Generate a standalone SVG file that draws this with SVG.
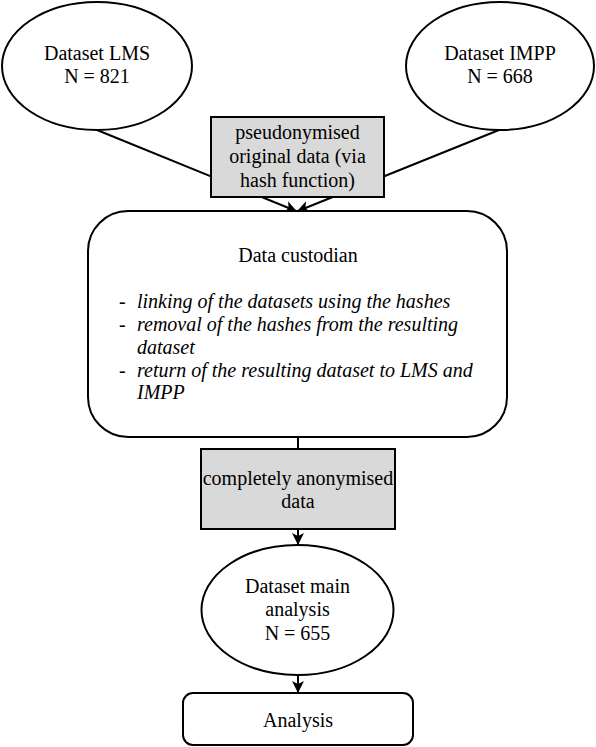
<svg xmlns="http://www.w3.org/2000/svg" width="596" height="747" viewBox="0 0 596 747">
<style>
.s{fill:#fff;stroke:#000;stroke-width:2}
.g{fill:#d9d9d9;stroke:#000;stroke-width:2}
.c{fill:none;stroke:#000;stroke-width:2}
text{font-family:"Liberation Serif","Times New Roman",serif;font-size:20px;fill:#000}
.m{text-anchor:middle}
.i{font-style:italic}
</style>
<defs>
<marker id="ah" markerWidth="12" markerHeight="12" refX="11" refY="6" orient="auto" markerUnits="userSpaceOnUse">
<path d="M0,0 L12,6 L0,12 L3,6 z" fill="#000"/>
</marker>
</defs>
<rect width="596" height="747" fill="#fff"/>
<g id="connectors">
<line class="c" x1="97" y1="130" x2="296" y2="211" marker-end="url(#ah)"/>
<line class="c" x1="499" y1="130" x2="298" y2="211" marker-end="url(#ah)"/>
<line class="c" x1="298" y1="437" x2="298" y2="449"/>
<line class="c" x1="298" y1="529" x2="298" y2="544" marker-end="url(#ah)"/>
<line class="c" x1="298" y1="675" x2="298" y2="692" marker-end="url(#ah)"/>
</g>
<g id="lms">
<ellipse class="s" cx="97" cy="66" rx="95" ry="64"/>
<text class="m" x="97" y="60">Dataset LMS</text>
<text class="m" x="97" y="83">N = 821</text>
</g>
<g id="impp">
<ellipse class="s" cx="500" cy="66" rx="94" ry="64"/>
<text class="m" x="500" y="60">Dataset IMPP</text>
<text class="m" x="500" y="83">N = 668</text>
</g>
<g id="pseudo">
<rect class="g" x="211" y="117" width="173" height="80"/>
<text class="m" x="297.5" y="139">pseudonymised</text>
<text class="m" x="297.5" y="163">original data (via</text>
<text class="m" x="297.5" y="187">hash function)</text>
</g>
<g id="custodian">
<rect class="s" x="88" y="211" width="419" height="226" rx="40" ry="40"/>
<text class="m" x="298" y="262">Data custodian</text>
<text x="119" y="308">-</text>
<text class="i" x="137" y="308">linking of the datasets using the hashes</text>
<text x="119" y="331">-</text>
<text class="i" x="137" y="331">removal of the hashes from the resulting</text>
<text class="i" x="137" y="354">dataset</text>
<text x="119" y="377">-</text>
<text class="i" x="137" y="377">return of the resulting dataset to LMS and</text>
<text class="i" x="137" y="399">IMPP</text>
</g>
<g id="anon">
<rect class="g" x="201" y="449" width="194" height="80"/>
<text class="m" x="298" y="485">completely anonymised</text>
<text class="m" x="298" y="508">data</text>
</g>
<g id="main">
<ellipse class="s" cx="297.5" cy="610" rx="96" ry="65"/>
<text class="m" x="297.5" y="593">Dataset main</text>
<text class="m" x="297.5" y="616">analysis</text>
<text class="m" x="297.5" y="640">N = 655</text>
</g>
<g id="analysis">
<rect class="s" x="183" y="693" width="230" height="52" rx="10" ry="10"/>
<text class="m" x="298" y="727">Analysis</text>
</g>
</svg>
